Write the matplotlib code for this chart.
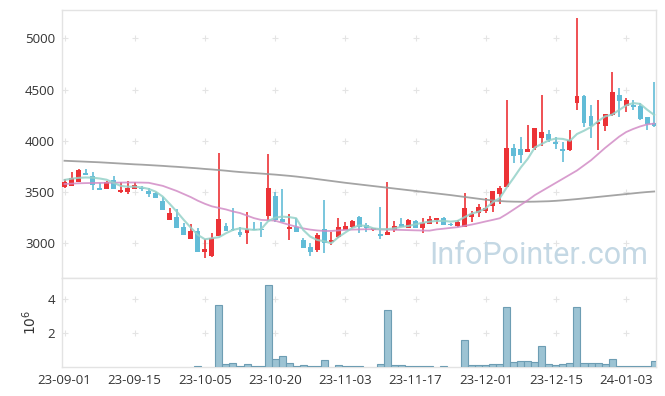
import numpy as np
import matplotlib
matplotlib.use("Agg")
import matplotlib.pyplot as plt

dates = [
    "23-09-01", "23-09-04", "23-09-05", "23-09-06", "23-09-07", "23-09-08", "23-09-11", "23-09-12",
    "23-09-13", "23-09-14", "23-09-15", "23-09-18", "23-09-19", "23-09-20", "23-09-21", "23-09-22",
    "23-09-25", "23-09-26", "23-09-27", "23-10-04", "23-10-05", "23-10-06", "23-10-10", "23-10-11",
    "23-10-12", "23-10-13", "23-10-16", "23-10-17", "23-10-18", "23-10-19", "23-10-20", "23-10-23",
    "23-10-24", "23-10-25", "23-10-26", "23-10-27", "23-10-30", "23-10-31", "23-11-01", "23-11-02",
    "23-11-03", "23-11-06", "23-11-07", "23-11-08", "23-11-09", "23-11-10", "23-11-13", "23-11-14",
    "23-11-15", "23-11-16", "23-11-17", "23-11-20", "23-11-21", "23-11-22", "23-11-23", "23-11-24",
    "23-11-27", "23-11-28", "23-11-29", "23-11-30", "23-12-01", "23-12-04", "23-12-05", "23-12-06",
    "23-12-07", "23-12-08", "23-12-11", "23-12-12", "23-12-13", "23-12-14", "23-12-15", "23-12-18",
    "23-12-19", "23-12-20", "23-12-21", "23-12-22", "23-12-26", "23-12-27", "23-12-28", "24-01-02",
    "24-01-03", "24-01-04", "24-01-05", "24-01-08", "24-01-09",
]

opens = [3545, 3562, 3595, 3690, 3657, 3542, 3533, 3614, 3500, 3500,
         3530, 3540, 3513, 3494, 3410, 3227, 3254, 3156, 3045, 3123,
         2918, 2879, 3074, 3170, 3137, 3113, 3104, 3143, 3137, 3266,
         3461, 3237, 3143, 3156, 3032, 2967, 2935, 3137, 3010, 3059,
         3130, 3156, 3260, 3179, 3125, 3091, 3081, 3130, 3188, 3152,
         3220, 3146, 3188, 3227, 3244, 3188, 3172, 3162, 3260, 3299,
         3315, 3364, 3481, 3552, 3930, 3920, 3894, 3927, 4030, 4063,
         3987, 3920, 3910, 4366, 4440, 4242, 4164, 4144, 4252, 4447,
         4342, 4349, 4339, 4229, 4177]
highs = [3625, 3700, 3725, 3720, 3700, 3590, 3608, 3657, 3595, 3605,
         3595, 3562, 3540, 3500, 3455, 3340, 3330, 3195, 3185, 3150,
         3045, 3098, 3880, 3200, 3347, 3160, 3305, 3210, 3210, 3868,
         3505, 3527, 3283, 3244, 3055, 3000, 3098, 3422, 3113, 3244,
         3205, 3225, 3262, 3201, 3150, 3357, 3598, 3218, 3244, 3232,
         3230, 3244, 3270, 3250, 3252, 3195, 3227, 3488, 3315, 3383,
         3439, 3512, 3560, 4398, 3969, 4040, 4154, 4125, 4447, 4105,
         4040, 3991, 4105, 5195, 4445, 4349, 4398, 4265, 4674, 4512,
         4414, 4398, 4365, 4235, 4577]
lows = [3540, 3560, 3595, 3668, 3517, 3517, 3527, 3527, 3494, 3478,
        3528, 3510, 3455, 3440, 3325, 3225, 3150, 3078, 3042, 2915,
        2860, 2869, 3072, 3120, 3122, 3065, 2995, 3125, 3060, 3220,
        3210, 3210, 3032, 3110, 2955, 2876, 2912, 2902, 2983, 3055,
        3128, 3150, 3098, 3113, 3118, 3039, 3079, 3105, 3158, 3146,
        3146, 3098, 3185, 3185, 3175, 3170, 3162, 3160, 3211, 3254,
        3299, 3308, 3383, 3550, 3780, 3780, 3890, 3910, 3945, 3985,
        3920, 3796, 3905, 4300, 4138, 4024, 3910, 4095, 4245, 4229,
        4284, 4300, 4200, 4105, 4135]
closes = [3595, 3634, 3715, 3670, 3566, 3523, 3598, 3533, 3520, 3540,
          3569, 3530, 3482, 3442, 3325, 3293, 3152, 3081, 3117, 2918,
          2944, 3052, 3237, 3123, 3125, 3081, 3137, 3130, 3128, 3537,
          3227, 3211, 3150, 3113, 2957, 2918, 3081, 3000, 3032, 3156,
          3169, 3220, 3162, 3146, 3146, 3075, 3113, 3169, 3162, 3227,
          3152, 3195, 3237, 3244, 3179, 3180, 3205, 3341, 3286, 3357,
          3347, 3510, 3542, 3930, 3855, 3864, 3920, 4122, 4089, 4008,
          3970, 3903, 4008, 4440, 4171, 4144, 4186, 4261, 4479, 4391,
          4398, 4333, 4212, 4164, 4140]

ma5 = [3618, 3630, 3638, 3642, 3640, 3632, 3620, 3590, 3560, 3552,
       3552, 3545, 3530, 3503, 3455, 3383, 3308, 3227, 3152, 3081,
       3039, 3049, 3059, 3098, 3130, 3146, 3137, 3130, 3137, 3215,
       3250, 3260, 3255, 3244, 3130, 3065, 3032, 3020, 3000, 3059,
       3105, 3150, 3175, 3169, 3146, 3137, 3137, 3146, 3160, 3169,
       3185, 3200, 3211, 3218, 3218, 3211, 3218, 3255, 3290, 3308,
       3341, 3400, 3440, 3545, 3640, 3740, 3825, 3935, 3970, 4005,
       4022, 4018, 4000, 4066, 4098, 4135, 4190, 4238, 4255, 4300,
       4345, 4368, 4360, 4303, 4252]
ma20 = [3578, 3582, 3585, 3587, 3588, 3589, 3590, 3591, 3592, 3593,
        3593, 3592, 3590, 3575, 3560, 3535, 3510, 3480, 3450, 3415,
        3385, 3360, 3345, 3330, 3310, 3295, 3270, 3245, 3228, 3225,
        3220, 3200, 3180, 3162, 3145, 3133, 3125, 3120, 3120, 3125,
        3130, 3133, 3135, 3137, 3137, 3135, 3133, 3131, 3130, 3128,
        3126, 3124, 3123, 3135, 3142, 3150, 3157, 3170, 3182, 3197,
        3213, 3228, 3244, 3285, 3330, 3375, 3420, 3470, 3510, 3550,
        3590, 3630, 3670, 3710, 3760, 3810, 3870, 3930, 3985, 4040,
        4085, 4115, 4140, 4160, 4168]
ma120 = [3805, 3802, 3799, 3796, 3793, 3790, 3786, 3782, 3778, 3774,
         3770, 3767, 3763, 3759, 3755, 3750, 3746, 3741, 3736, 3731,
         3725, 3720, 3714, 3708, 3701, 3695, 3690, 3685, 3680, 3675,
         3670, 3664, 3658, 3651, 3643, 3635, 3626, 3617, 3608, 3599,
         3590, 3582, 3574, 3566, 3558, 3550, 3542, 3534, 3526, 3518,
         3510, 3502, 3494, 3486, 3478, 3470, 3461, 3452, 3443, 3434,
         3425, 3418, 3412, 3408, 3406, 3405, 3405, 3406, 3408, 3410,
         3414, 3419, 3425, 3431, 3438, 3445, 3452, 3459, 3466, 3473,
         3480, 3487, 3494, 3500, 3505]

# volume in millions
volumes = [0, 0, 0, 0, 0, 0, 0, 0, 0, 0,
           0, 0, 0, 0, 0, 0, 0, 0, 0, 0.06,
           0, 0, 3.63, 0.2, 0.24, 0.06, 0.18, 0.06, 0.06, 4.84,
           0.5, 0.65, 0.24, 0.06, 0.12, 0.06, 0.06, 0.42, 0, 0.12,
           0.06, 0.06, 0.06, 0, 0, 0.18, 3.33, 0.12, 0.12, 0.06,
           0.06, 0.06, 0.06, 0, 0.06, 0, 0, 1.61, 0.12, 0.12,
           0.12, 0.18, 0.18, 3.51, 0.3, 0.36, 0.36, 0.3, 1.25, 0.18,
           0.12, 0.18, 0.24, 3.51, 0.24, 0.24, 0.24, 0.18, 0.48, 0.06,
           0.06, 0.06, 0.06, 0.06, 0.36]

price_ticks = [3000, 3500, 4000, 4500, 5000]
vol_ticks = [2, 4]
tick_step = 10

red = "#ec3236"
blue = "#62bcd7"
grid_col = "#e4e4e4"
spine_col = "#e3e3e3"

plt.rcParams["font.family"] = ["Open Sans", "DejaVu Sans"]

fig = plt.figure(figsize=(6.65, 3.96), dpi=100)
ax = fig.add_axes([0.0932, 0.298, 0.8933, 0.6767])
axv = fig.add_axes([0.0932, 0.0732, 0.8933, 0.2248], sharex=ax)

x = np.arange(len(dates))
o = np.array(opens)
c = np.array(closes)
up = c >= o
cols = np.where(up, red, blue)

ax.vlines(x, lows, highs, colors=cols, linewidth=1.2, zorder=3)
body = np.maximum(np.abs(c - o), 12)
ax.bar(x, body, bottom=np.minimum(o, c), width=0.7, color=cols, linewidth=0, zorder=4)

ax.plot(x, ma120, color="#9a9a9a", lw=1.3, alpha=0.9, zorder=5)
ax.plot(x, ma20, color="#d28cc6", lw=1.3, alpha=0.85, zorder=5)
ax.plot(x, ma5, color="#95d2c9", lw=1.5, alpha=0.85, zorder=5)

ax.set_xlim(-0.36, 84.26)
ax.set_ylim(2661, 5276)
xt = x[::tick_step]
ax.set_xticks(xt)
ax.set_yticks(price_ticks)
ax.tick_params(labelbottom=False, length=0, labelsize=9.5, labelcolor="#333333", pad=5)

gx, gy = np.meshgrid(xt, price_ticks)
ax.plot(gx.ravel(), gy.ravel(), "+", color=grid_col, ms=4.5, mew=0.8, zorder=0)

ax.text(0.987, 0.03, "InfoPointer.com", transform=ax.transAxes, ha="right", va="bottom",
        fontsize=22, family="Roboto", color="#c4d8e4", zorder=1)

nz = np.array(volumes) > 0
axv.bar(x[nz], np.array(volumes)[nz], width=1.0, color="#9cc3d3", edgecolor="#6d9db3",
        linewidth=0.8, zorder=3)
axv.set_ylim(0, 5.24)
axv.set_yticks(vol_ticks)
axv.set_yticklabels([str(v) for v in vol_ticks])
axv.set_xticks(xt)
axv.set_xticklabels([dates[i] for i in xt])
axv.tick_params(length=0, labelsize=9.5, labelcolor="#333333", pad=5)
axv.set_ylabel("$10^6$", fontsize=10, color="#333333", labelpad=5)

vx, vy = np.meshgrid(xt, vol_ticks)
axv.plot(vx.ravel(), vy.ravel(), "+", color=grid_col, ms=4.5, mew=0.8, zorder=0)

for a in (ax, axv):
    for s in a.spines.values():
        s.set_color(spine_col)
        s.set_linewidth(1.0)

fig.savefig("out.png", dpi=100)
